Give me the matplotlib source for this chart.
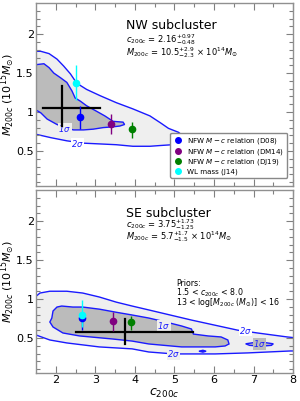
import matplotlib
matplotlib.use("Agg")
import matplotlib.pyplot as plt
from matplotlib.lines import Line2D

# ---------------- data ----------------
# NW (top) subcluster
nw_2sig_c = [1.45, 1.62, 1.83, 2.03, 2.20, 2.37, 2.53, 2.78, 3.12, 3.53, 3.95, 4.38, 4.65, 4.85, 5.10, 5.25,
             5.20, 4.95, 4.65, 4.38, 3.95, 3.53, 3.12, 2.70, 2.28, 1.88, 1.45]
nw_2sig_m = [1.78, 1.78, 1.75, 1.68, 1.59, 1.49, 1.37, 1.29, 1.21, 1.12, 1.04, 0.95, 0.86, 0.79, 0.74, 0.68,
             0.62, 0.58, 0.57, 0.56, 0.56, 0.58, 0.59, 0.60, 0.63, 0.67, 0.72]
nw_1sig_c = [1.45, 1.53, 1.70, 1.83, 1.95, 2.12, 2.28, 2.41, 2.49, 2.62, 2.78, 3.03, 3.24, 3.45, 3.70, 3.74,
             3.62, 3.45, 3.20, 2.95, 2.70, 2.45, 2.28, 2.03, 1.78, 1.62, 1.45]
nw_1sig_m = [1.59, 1.61, 1.62, 1.57, 1.50, 1.44, 1.38, 1.27, 1.18, 1.14, 1.08, 1.01, 0.95, 0.88, 0.87, 0.84,
             0.82, 0.81, 0.80, 0.78, 0.77, 0.77, 0.79, 0.84, 0.91, 0.99, 1.04]
nw_best_c, nw_c_lo, nw_c_hi = 2.16, 1.68, 3.13
nw_best_m, nw_m_lo, nw_m_hi = 1.05, 0.82, 1.34

# SE (bottom) subcluster
se_2sig_c = [1.45, 1.60, 1.85, 2.28, 2.68, 3.10, 3.53, 3.93, 4.35, 5.43, 6.60, 7.10, 7.85, 8.10,
             8.10, 7.93, 6.85, 6.03, 4.98, 4.35, 3.93, 3.10, 2.28, 1.85, 1.50, 1.45]
se_2sig_m = [1.013, 1.077, 1.10, 1.10, 1.077, 1.026, 0.96, 0.91, 0.86, 0.73, 0.60, 0.564, 0.513, 0.50,
             0.333, 0.333, 0.308, 0.295, 0.295, 0.32, 0.36, 0.385, 0.436, 0.474, 0.538, 0.55]
se_1sig_c = [1.90, 1.93, 2.03, 2.15, 2.43, 2.68, 3.10, 3.53, 3.93, 4.35, 4.78, 5.18, 5.43, 5.48, 5.85, 6.18,
             6.35, 6.38, 6.28, 6.03, 5.18, 4.35, 3.93, 3.43, 2.60, 2.18, 1.93, 1.85]
se_1sig_m = [0.756, 0.846, 0.897, 0.91, 0.897, 0.897, 0.87, 0.83, 0.795, 0.756, 0.705, 0.654, 0.615, 0.55,
             0.526, 0.513, 0.474, 0.423, 0.397, 0.385, 0.385, 0.423, 0.46, 0.487, 0.526, 0.564, 0.641, 0.705]
se_isl_c = [6.80, 7.00, 7.30, 7.50, 7.45, 7.20, 6.90]
se_isl_m = [0.425, 0.44, 0.44, 0.425, 0.405, 0.395, 0.405]
se_dot_c = [5.62, 5.72, 5.80, 5.72]
se_dot_m = [0.33, 0.342, 0.33, 0.318]
se_best_c, se_c_lo, se_c_hi = 3.75, 2.50, 5.48
se_best_m, se_m_lo, se_m_hi = 0.58, 0.42, 0.74

labels = ["NFW $M-c$ relation (D08)", "NFW $M-c$ relation (DM14)",
          "NFW $M-c$ relation (DJ19)", "WL mass (J14)"]
colors = ["blue", "purple", "green", "cyan"]
nw_pt_c = [2.60, 3.39, 3.93, 2.52]
nw_pt_m = [0.936, 0.84, 0.78, 1.376]
nw_pt_lo = [0.78, 0.72, 0.67, 1.15]
nw_pt_hi = [1.08, 0.97, 0.87, 1.60]
se_pt_c = [2.66, 3.44, 3.90, 2.66]
se_pt_m = [0.755, 0.72, 0.70, 0.795]
se_pt_lo = [0.60, 0.59, 0.60, 0.64]
se_pt_hi = [0.83, 0.83, 0.78, 0.99]

xticks = [2, 3, 4, 5, 6, 7, 8]
yticks = [0.5, 1.0, 1.5, 2.0]
yticklabels = ["0.5", "1", "1.5", "2"]

# ---------------- figure ----------------
fig = plt.figure(figsize=(3.0, 4.01), dpi=100)
ax1 = fig.add_axes([0.12, 0.5362, 0.857, 0.4563])
ax2 = fig.add_axes([0.12, 0.0698, 0.857, 0.4564])

LIGHT = "#efefef"
DARK = "#bbbbbb"
LINEC = "#1a1aff"


def style(ax, show_x):
    ax.set_xlim(1.5, 8)
    ax.set_ylim(0.05, 2.4)
    ax.set_xticks(xticks)
    ax.set_xticks([2.5, 3.5, 4.5, 5.5, 6.5, 7.5], minor=True)
    ax.set_yticks(yticks)
    ax.set_yticklabels(yticklabels)
    ax.set_yticks([0.1 * i for i in range(1, 24) if i % 5 != 0], minor=True)
    ax.tick_params(which="both", direction="in", top=True, right=True, color="#808080",
                   labelsize=8, pad=1.5)
    ax.tick_params(which="major", length=5, width=0.8)
    ax.tick_params(which="minor", length=2.8, width=0.8)
    for s in ax.spines.values():
        s.set_color("#909090")
        s.set_linewidth(1.0)
    if not show_x:
        ax.tick_params(labelbottom=False)
    ax.set_ylabel(r"$M_{200c}$ ($10^{15}M_{\odot}$)", fontsize=8)
    ax.yaxis.set_label_coords(-0.072, 0.5)


def draw_points(ax, pc, pm, plo, phi):
    for c, m, lo, hi, col in zip(pc, pm, plo, phi, colors):
        ax.errorbar([c], [m], yerr=[[m - lo], [hi - m]], fmt="o", color=col,
                    ms=4.5, elinewidth=1.0, capsize=0, zorder=6)


def sig_label(ax, x, y, t, bg):
    ax.text(x, y, t, color=LINEC, fontsize=6, style="italic", ha="center", va="center",
            zorder=4, bbox=dict(facecolor=bg, edgecolor="none", pad=0.3))


# top panel
style(ax1, False)
ax1.fill(nw_2sig_c, nw_2sig_m, facecolor=LIGHT, edgecolor=LINEC, lw=1.0, zorder=1)
ax1.fill(nw_1sig_c, nw_1sig_m, facecolor=DARK, edgecolor=LINEC, lw=1.0, zorder=2)
ax1.plot([nw_c_lo, nw_c_hi], [nw_best_m, nw_best_m], color="black", lw=1.6, zorder=5)
ax1.plot([nw_best_c, nw_best_c], [nw_m_lo, nw_m_hi], color="black", lw=1.6, zorder=5)
draw_points(ax1, nw_pt_c, nw_pt_m, nw_pt_lo, nw_pt_hi)
sig_label(ax1, 2.23, 0.785, r"1$\sigma$", LIGHT)
sig_label(ax1, 2.55, 0.595, r"2$\sigma$", "white")
ax1.text(3.78, 2.115, "NW subcluster", fontsize=9, va="center", ha="left")
ax1.text(3.78, 1.93, r"$c_{200c}$ = 2.16$^{+0.97}_{-0.48}$", fontsize=6, va="center", ha="left")
ax1.text(3.78, 1.765, r"$M_{200c}$ = 10.5$^{+2.9}_{-2.3}$ $\times$ $10^{14}M_{\odot}$",
         fontsize=6, va="center", ha="left")
handles = [Line2D([], [], marker="o", ls="none", color=c, ms=4) for c in colors]
leg = ax1.legend(handles, labels, loc="lower right", bbox_to_anchor=(0.977, 0.045),
                 borderaxespad=0, fontsize=5.1, framealpha=1, handletextpad=0.5,
                 labelspacing=0.1, borderpad=0.45, handlelength=1.4, fancybox=True)
leg.set_zorder(10)
leg.get_frame().set_edgecolor("#888888")

# bottom panel
style(ax2, True)
ax2.fill(se_2sig_c, se_2sig_m, facecolor=LIGHT, edgecolor=LINEC, lw=1.0, zorder=1, clip_on=True)
ax2.fill(se_1sig_c, se_1sig_m, facecolor=DARK, edgecolor=LINEC, lw=1.0, zorder=2)
ax2.fill(se_isl_c, se_isl_m, facecolor=DARK, edgecolor=LINEC, lw=1.0, zorder=2)
ax2.fill(se_dot_c, se_dot_m, facecolor=LINEC, edgecolor=LINEC, lw=1.0, zorder=2)
ax2.plot([se_c_lo, se_c_hi], [se_best_m, se_best_m], color="black", lw=1.6, zorder=5)
ax2.plot([se_best_c, se_best_c], [se_m_lo, se_m_hi], color="black", lw=1.6, zorder=5)
draw_points(ax2, se_pt_c, se_pt_m, se_pt_lo, se_pt_hi)
sig_label(ax2, 4.73, 0.655, r"1$\sigma$", LIGHT)
sig_label(ax2, 6.80, 0.595, r"2$\sigma$", "white")
sig_label(ax2, 7.15, 0.425, r"1$\sigma$", DARK)
sig_label(ax2, 4.98, 0.295, r"2$\sigma$", LIGHT)
ax2.text(3.78, 2.10, "SE subcluster", fontsize=9, va="center", ha="left")
ax2.text(3.78, 1.96, r"$c_{200c}$ = 3.75$^{+1.73}_{-1.25}$", fontsize=6, va="center", ha="left")
ax2.text(3.78, 1.80, r"$M_{200c}$ = 5.7$^{+1.7}_{-1.5}$ $\times$ $10^{14}M_{\odot}$",
         fontsize=6, va="center", ha="left")
ax2.text(5.05, 1.20, "Priors:", fontsize=5.7, va="center", ha="left")
ax2.text(5.05, 1.08, r"1.5 < $c_{200c}$ < 8.0", fontsize=5.7, va="center", ha="left")
ax2.text(5.05, 0.95, r"13 < log[$M_{200c}$ ($M_{\odot}$)] < 16", fontsize=5.7, va="center", ha="left")
ax2.set_xlabel(r"$c_{200c}$", fontsize=9, labelpad=1)

fig.savefig("out.png", dpi=100)
